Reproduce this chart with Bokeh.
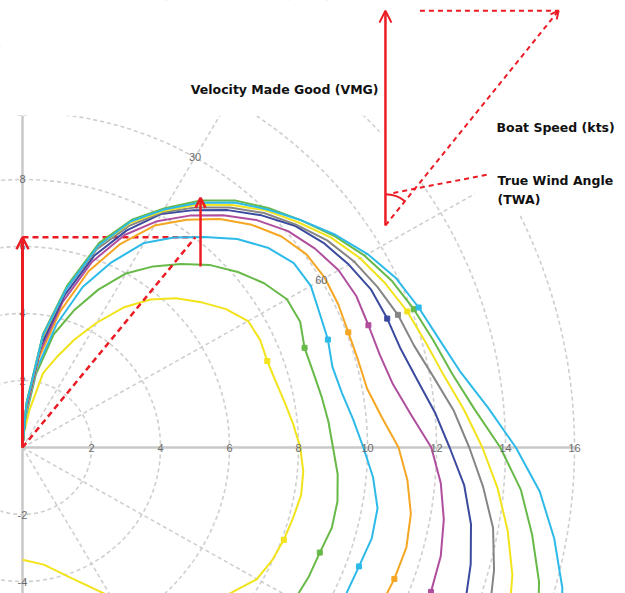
import numpy as np
from bokeh.plotting import figure
from bokeh.models import Arrow, OpenHead, Label
from bokeh.core.properties import value
from bokeh.embed import file_html
from bokeh.resources import INLINE

# ---------------- data ----------------
TWA = [0, 5, 10, 15, 20, 25, 30, 35, 40, 45, 50, 55, 60, 65, 70, 75, 80, 85, 90, 95,
       100, 105, 110, 115, 120, 130, 140, 150, 160, 170, 180]

SPEED_A = [0, 0.4, 1.1, 2.3, 2.85, 3.55, 4.3, 5.1, 5.77, 6.3, 6.75, 7.2, 7.55, 7.6, 7.55, 7.6,
           7.72, 7.88, 8.05, 8.17, 8.2, 8.12, 8.06, 7.98, 7.85, 7.2, 6.3, 5.15, 4.15, 3.55, 3.35]
SPEED_B = [0, 0.8, 2.2, 3.5, 4.35, 5.2, 6.0, 6.6, 7.15, 7.7, 8.15, 8.55, 8.85, 8.88, 8.7, 8.72,
           8.8, 8.9, 9.0, 9.17, 9.27, 9.28, 9.17, 9.15, 9.1, 8.8, 8.3, 7.7, 7.0, 6.5, 6.3]
SPEED_C = [0, 0.9, 2.4, 3.8, 5.1, 6.1, 7.05, 7.65, 8.2, 8.8, 9.28, 9.6, 9.65, 9.5, 9.42, 9.3,
           9.4, 9.62, 9.88, 10.2, 10.45, 10.48, 10.38, 10.35, 10.3, 10.0, 9.6, 9.1, 8.6, 8.2, 8.0]
SPEED_D = [0, 1.0, 2.7, 4.2, 5.6, 6.7, 7.65, 8.3, 8.9, 9.4, 9.8, 10.05, 10.12, 10.1, 10.05, 10.07,
           10.14, 10.45, 10.9, 11.2, 11.43, 11.52, 11.47, 11.4, 11.3, 11.0, 10.6, 10.1, 9.6, 9.2, 9.0]
SPEED_E = [0, 1.1, 2.9, 4.5, 5.9, 7.0, 7.8, 8.45, 9.05, 9.6, 10.05, 10.35, 10.58, 10.68, 10.67, 10.72,
           10.9, 11.3, 11.85, 12.17, 12.4, 12.55, 12.6, 12.55, 12.5, 12.2, 11.8, 11.3, 10.8, 10.4, 10.2]
SPEED_F = [0, 1.2, 3.1, 4.7, 6.1, 7.15, 8.05, 8.65, 9.25, 9.8, 10.3, 10.65, 10.92, 11.15, 11.25, 11.35,
           11.62, 12.0, 12.38, 12.85, 13.2, 13.45, 13.65, 13.7, 13.7, 13.5, 13.1, 12.6, 12.1, 11.7, 11.5]
SPEED_G = [0, 1.25, 3.3, 4.9, 6.3, 7.3, 8.1, 8.75, 9.35, 9.9, 10.35, 10.78, 11.1, 11.35, 11.58, 11.75,
           12.1, 12.55, 12.95, 13.4, 13.85, 14.15, 14.4, 14.6, 14.7, 14.6, 14.3, 13.8, 13.3, 12.9, 12.7]
SPEED_H = [0, 1.3, 3.35, 4.95, 6.4, 7.4, 8.15, 8.85, 9.45, 10.0, 10.45, 10.92, 11.3, 11.6, 11.87, 12.1,
           12.4, 12.85, 13.33, 13.82, 14.28, 14.7, 15.0, 15.25, 15.4, 15.4, 15.1, 14.6, 14.1, 13.7, 13.5]
SPEED_I = [0, 1.35, 3.45, 5.0, 6.5, 7.5, 8.25, 9.0, 9.62, 10.1, 10.55, 11.02, 11.45, 11.8, 12.07, 12.33,
           12.65, 13.15, 13.85, 14.5, 15.0, 15.5, 15.9, 16.2, 16.4, 16.4, 16.1, 15.6, 15.1, 14.7, 14.5]
SPEED_J = [0, 1.3, 3.4, 4.9, 6.4, 7.45, 8.2, 8.92, 9.55, 10.05, 10.55, 11.07, 11.55, 11.95, 12.22, 12.5,
           12.9, 13.55, 14.3, 15.05, 15.65, 16.2, 16.6, 16.9, 17.1, 17.1, 16.8, 16.3, 15.8, 15.4, 15.2]

SERIES = [SPEED_A, SPEED_B, SPEED_C, SPEED_D, SPEED_E, SPEED_F, SPEED_G, SPEED_H, SPEED_I, SPEED_J]
COLORS = ["#F2E31B", "#67B948", "#2DBAE8", "#F5A623", "#B04E9E", "#3B4A9E",
          "#858585", "#F2E31B", "#67B948", "#2DBAE8"]
MARKER_TWA = [70, 110]

X_TICKS = [2, 4, 6, 8, 10, 12, 14, 16]
Y_TICKS = [-4, -2, 2, 4, 6, 8, 10]
GRID_R = [2, 4, 6, 8, 10, 12, 14, 16]
RADIAL_TWA = [30, 60, 120, 150]
ANGLE_LABELS = [30, 60]
ANGLE_LABEL_R = 10
Y_AXIS_MIN = -5

VMG_TWA = 38.6      # optimum upwind angle of the highlighted curve
VMG_SPEED = 8.03    # boat speed at that angle
TOP_SPEED_Y = [5.4, 7.45]

# ---------------- figure ----------------
RED = "#EC1C24"
GRID_C = "#CFCFCF"
p = figure(width=625, height=593, x_range=(-0.6377, 17.478), y_range=(-4.358, 13.343),
           output_backend="svg", toolbar_location=None, min_border=0,
           x_axis_location=None, y_axis_location=None)
p.grid.visible = False
p.outline_line_color = None

# polar grid
p.ellipse(x=0, y=0, width=[2 * r for r in GRID_R], height=[2 * r for r in GRID_R],
          fill_color=None, line_color=GRID_C, line_width=1.6, line_dash="4 3")
rt = np.radians(RADIAL_TWA)
p.segment(x0=0, y0=0, x1=(GRID_R[-1] * np.sin(rt)).tolist(), y1=(GRID_R[-1] * np.cos(rt)).tolist(),
          line_color=GRID_C, line_width=1.6, line_dash="4 3")
# white backing of the explanatory diagram and its labels
p.quad(left=[10.35, 13.1], right=[18, 18], bottom=[7.9, 7.0], top=[14, 7.9],
       fill_color="white", line_color=None)
# axes
ytop = Y_TICKS[-1]
p.segment(x0=[0, 0], y0=[0, Y_AXIS_MIN], x1=[X_TICKS[-1], 0], y1=[0, ytop],
          line_color="#C8C8C8", line_width=2.5)

# VMG horizontal projection (under curves)
vt = np.radians(VMG_TWA)
vx, vy = VMG_SPEED * np.sin(vt), VMG_SPEED * np.cos(vt)
p.line([0, vx], [vy, vy], line_color=RED, line_width=2.5, line_dash="6 4")

# polar curves
t = np.radians(TWA)
idx = [TWA.index(a) for a in MARKER_TWA]
for s, c in zip(SERIES, COLORS):
    s = np.array(s)
    xs, ys = s * np.sin(t), s * np.cos(t)
    p.line(xs.tolist(), ys.tolist(), line_color=c, line_width=2, line_join="round")
    p.scatter(xs[idx].tolist(), ys[idx].tolist(), marker="square", size=5,
              fill_color=c, line_color=c)

# tick labels
LBL_C = "#6B6B6B"
p.text(x=X_TICKS, y=[0] * len(X_TICKS), text=[str(v) for v in X_TICKS],
       text_align="center", text_baseline="middle", text_font=value("Liberation Sans"),
       text_font_size="11px", text_color=LBL_C)
p.text(x=[0] * len(Y_TICKS), y=Y_TICKS, text=[str(v) for v in Y_TICKS],
       text_align="center", text_baseline="middle", text_font=value("Liberation Sans"),
       text_font_size="11px", text_color=LBL_C)
at = np.radians(ANGLE_LABELS)
p.text(x=(ANGLE_LABEL_R * np.sin(at)).tolist(), y=(ANGLE_LABEL_R * np.cos(at)).tolist(),
       text=[str(v) for v in ANGLE_LABELS], text_align="center", text_baseline="middle",
       text_font=value("Liberation Sans"), text_font_size="11px", text_color=LBL_C)

# the chart's plot area is cropped just under the top of the value axis
p.quad(left=-1, right=18, bottom=9.9, top=14, fill_color="white", line_color=None)

# VMG construction in the chart
p.line([0, vx], [0, vy], line_color=RED, line_width=2.5, line_dash="6 4")
p.add_layout(Arrow(end=OpenHead(size=12, line_color=RED, line_width=2.5),
                   x_start=0, y_start=0, x_end=0, y_end=vy, line_color=RED, line_width=3))
p.add_layout(Arrow(end=OpenHead(size=10, line_color=RED, line_width=2.5),
                   x_start=5.16, y_start=TOP_SPEED_Y[0], x_end=5.16, y_end=TOP_SPEED_Y[1],
                   line_color=RED, line_width=2.5))

# explanatory diagram (top right)
LX0, LY0, LX1, LY1 = 10.52, 6.63, 15.54, 13.04
p.add_layout(Arrow(end=OpenHead(size=12, line_color=RED, line_width=2),
                   x_start=LX0, y_start=LY0, x_end=LX0, y_end=LY1, line_color=RED, line_width=2.5))
p.add_layout(Arrow(end=OpenHead(size=8, line_color=RED, line_width=2),
                   x_start=LX0, y_start=LY0, x_end=LX1, y_end=LY1, line_color=RED,
                   line_width=2, line_dash="5 4"))
p.line([LX0 + 1.0, LX1], [LY1, LY1], line_color=RED, line_width=2, line_dash="5 4")
ang = np.arctan2(LY1 - LY0, LX1 - LX0)
p.arc(x=LX0, y=LY0, radius=0.9, start_angle=float(ang), end_angle=np.pi / 2,
      line_color=RED, line_width=2)
p.line([10.75, 13.5], [7.6, 8.15], line_color=RED, line_width=2, line_dash="5 4")

FONT = "DejaVu Sans"
for txt, x, y, align in [("Velocity Made Good (VMG)", 10.32, 10.69, "right"),
                         ("Boat Speed (kts)", 13.74, 9.55, "left"),
                         ("True Wind Angle", 13.77, 7.97, "left"),
                         ("(TWA)", 13.77, 7.40, "left")]:
    p.add_layout(Label(x=x, y=y, text=txt, text_align=align, text_baseline="middle",
                       text_font=FONT, text_font_size="12.5px", text_font_style="bold",
                       text_color="#111111"))

open("out.html", "w").write(file_html(p, INLINE))
